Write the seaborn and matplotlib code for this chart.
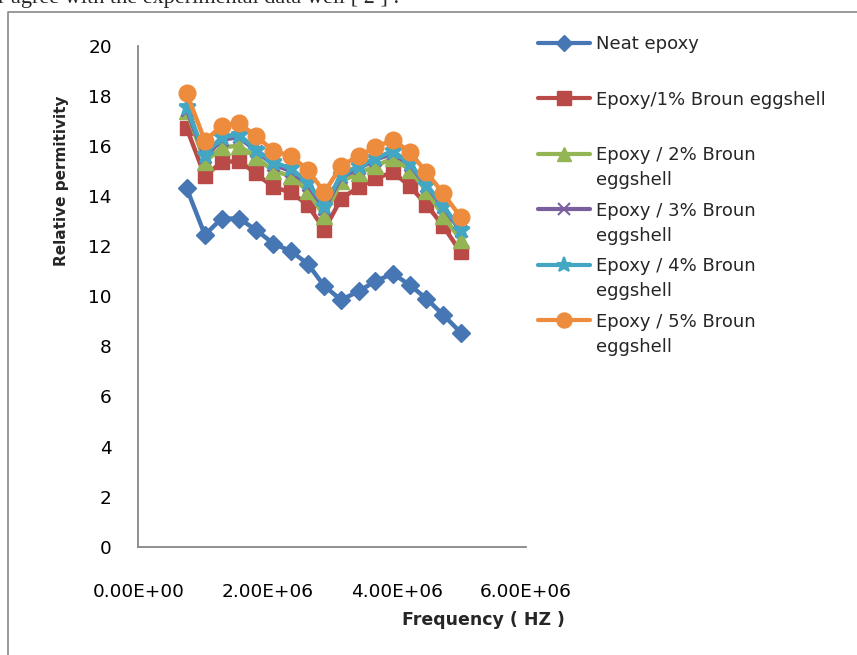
import matplotlib
matplotlib.use("Agg")
import matplotlib.pyplot as plt
from matplotlib.ticker import FuncFormatter
from matplotlib.lines import Line2D
import seaborn as sns
import pandas as pd

# ---- data ----
frequency = [0.75e6, 1.03e6, 1.29e6, 1.56e6, 1.82e6, 2.09e6, 2.36e6, 2.62e6, 2.88e6,
             3.14e6, 3.41e6, 3.67e6, 3.94e6, 4.20e6, 4.46e6, 4.72e6, 4.99e6]
neat_epoxy = [14.3, 12.45, 13.1, 13.1, 12.65, 12.1, 11.8, 11.3, 10.4, 9.85, 10.2, 10.6, 10.9, 10.45, 9.9, 9.25, 8.55]
epoxy_1 = [16.7, 14.8, 15.35, 15.4, 14.9, 14.35, 14.15, 13.65, 12.65, 13.9, 14.35, 14.7, 14.95, 14.4, 13.65, 12.8, 11.75]
epoxy_2 = [17.4, 15.35, 15.95, 16.0, 15.55, 15.0, 14.8, 14.2, 13.2, 14.6, 14.9, 15.2, 15.5, 15.05, 14.2, 13.2, 12.25]
epoxy_3 = [17.45, 15.55, 16.25, 16.35, 15.8, 15.25, 15.0, 14.45, 13.5, 14.75, 15.1, 15.45, 15.7, 15.25, 14.4, 13.55, 12.6]
epoxy_4 = [17.55, 15.65, 16.35, 16.45, 15.85, 15.35, 15.1, 14.55, 13.6, 14.85, 15.2, 15.5, 15.8, 15.3, 14.45, 13.6, 12.65]
epoxy_5 = [18.1, 16.2, 16.8, 16.9, 16.4, 15.8, 15.6, 15.05, 14.15, 15.2, 15.6, 15.95, 16.25, 15.75, 14.95, 14.1, 13.15]

labels = ["Neat epoxy", "Epoxy/1% Broun eggshell", "Epoxy / 2% Broun\neggshell",
          "Epoxy / 3% Broun\neggshell", "Epoxy / 4% Broun\neggshell", "Epoxy / 5% Broun\neggshell"]
series = [neat_epoxy, epoxy_1, epoxy_2, epoxy_3, epoxy_4, epoxy_5]
colors = ["#4677B4", "#BA4A47", "#94B553", "#7B5E9E", "#43A6C2", "#EE8C3E"]
markers = ["D", "s", "^", "x", "*", "o"]
msizes = [9.0, 10.5, 11.5, 9, 12.5, 12.0]

y_ticks = list(range(0, 21, 2))
x_ticks = [0, 2e6, 4e6, 6e6]

sns.set_style("white")
plt.rcParams["font.family"] = ["DejaVu Sans"]

W, H = 857, 655
fig = plt.figure(figsize=(W / 100, H / 100), dpi=100)
ax = fig.add_axes([138.3 / W, 1 - 546.7 / H, (526 - 138.3) / W, (546.7 - 45.7) / H])

handles = []
for ys, lab, c, m, ms in zip(series, labels, colors, markers, msizes):
    df = pd.DataFrame({"f": frequency, "v": ys})
    sns.lineplot(data=df, x="f", y="v", ax=ax, color=c, marker=m, markersize=ms,
                 markeredgecolor=c, markerfacecolor=c, markeredgewidth=2 if m in "x*" else 1,
                 linewidth=3.2, legend=False)
    handles.append(Line2D([], [], color=c, marker=m, markersize=ms * 0.9,
                          markeredgecolor=c, markerfacecolor=c,
                          markeredgewidth=1.5 if m in "x*" else 1, linewidth=3.0))

ax.set_xlim(0, 6e6)
ax.set_ylim(0, 20)
ax.set_xticks(x_ticks)
ax.set_yticks(y_ticks)
ax.xaxis.set_major_formatter(FuncFormatter(lambda v, p: f"{v:.2E}"))
ax.set_xlabel("")
ax.set_ylabel("")
for s in ["top", "right"]:
    ax.spines[s].set_visible(False)
for s in ["left", "bottom"]:
    ax.spines[s].set_color("#868686")
    ax.spines[s].set_linewidth(1.3)
ax.tick_params(axis="both", direction="out", length=6, width=1.3, color="#868686",
               labelsize=13.3, labelcolor="black")
ax.tick_params(axis="x", pad=20)
ax.tick_params(axis="y", pad=13)
ax.grid(False)

fig.text(62 / W, 1 - 181 / H, "Relative permitivity", rotation=90, ha="center", va="center",
         fontsize=11, fontweight="bold")
fig.text(483 / W, 1 - 620 / H, "Frequency ( HZ )", ha="center", va="center",
         fontsize=12.5, fontweight="bold")

# legend (first lines) + continuation lines
first_lines = [l.split("\n")[0] for l in labels]
leg = fig.legend(handles, first_lines, loc="upper left",
                 bbox_to_anchor=(538 / W, 1 - 35 / H), bbox_transform=fig.transFigure,
                 frameon=False, fontsize=13, handlelength=2.9, handletextpad=0.3,
                 labelspacing=2.08, borderpad=0, borderaxespad=0)
fig.canvas.draw()
renderer = fig.canvas.get_renderer()
for t, lab in zip(leg.get_texts(), labels):
    if "\n" in lab:
        bb = t.get_window_extent(renderer)
        fig.text(bb.x0 / W, (bb.y0 + bb.height / 2 - 25) / H, lab.split("\n")[1],
                 ha="left", va="center", fontsize=13)

# surrounding page bits
fig.add_artist(Line2D([8 / W, 8 / W, 1], [0, 1 - 11.5 / H, 1 - 11.5 / H],
                      transform=fig.transFigure, color="#888888", linewidth=1.2))
fig.text(-2 / W, 1 - 3 / H, "r agree with the experimental data well [ 2 ] .",
         ha="left", va="baseline", fontsize=16, family=["Liberation Serif"])

fig.savefig("out.png", dpi=100)
